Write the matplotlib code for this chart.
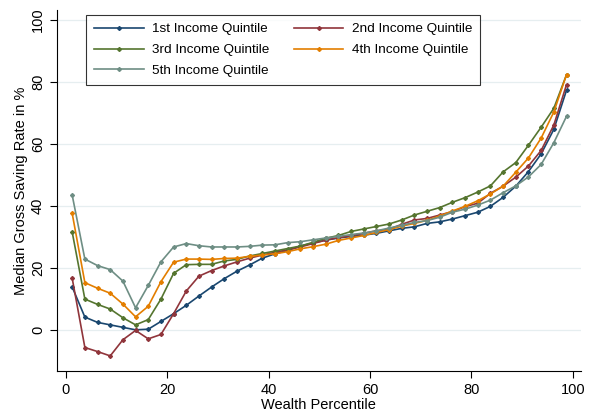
import matplotlib
matplotlib.use("Agg")
import matplotlib.pyplot as plt

plt.rcParams['font.family'] = ['Liberation Sans', 'DejaVu Sans']

# wealth percentile bins (bin centres)
percentile = [1.25, 3.75, 6.25, 8.75, 11.25, 13.75, 16.25, 18.75, 21.25, 23.75,
              26.25, 28.75, 31.25, 33.75, 36.25, 38.75, 41.25, 43.75, 46.25, 48.75,
              51.25, 53.75, 56.25, 58.75, 61.25, 63.75, 66.25, 68.75, 71.25, 73.75,
              76.25, 78.75, 81.25, 83.75, 86.25, 88.75, 91.25, 93.75, 96.25, 98.75]

q1 = [13.9, 4.2, 2.5, 1.7, 0.9, 0.1, 0.3, 2.8, 5.3, 8.0,
      11.0, 13.9, 16.6, 19.0, 21.0, 23.2, 24.6, 25.7, 27.1, 28.1,
      29.0, 29.7, 30.2, 30.6, 31.2, 32.0, 32.8, 33.3, 34.4, 34.9,
      35.8, 36.9, 38.0, 39.9, 42.8, 46.4, 51.1, 56.8, 64.7, 77.3]
q2 = [16.7, -5.6, -6.9, -8.3, -3.1, -0.1, -2.8, -1.4, 5.3, 12.6,
      17.4, 19.2, 20.7, 22.0, 23.2, 24.2, 25.1, 25.9, 26.8, 27.9,
      29.0, 29.8, 30.4, 31.2, 32.0, 32.5, 34.1, 35.5, 36.0, 37.1,
      38.2, 39.8, 40.9, 44.1, 46.4, 49.3, 52.9, 57.9, 66.1, 79.1]
q3 = [31.6, 10.0, 8.3, 6.8, 4.0, 1.7, 3.4, 10.0, 18.3, 21.1,
      21.2, 21.2, 22.3, 22.8, 23.9, 24.7, 25.5, 26.3, 27.1, 28.3,
      29.6, 30.5, 31.8, 32.6, 33.4, 34.2, 35.5, 37.1, 38.3, 39.5,
      41.2, 42.7, 44.5, 46.5, 51.0, 54.0, 59.6, 65.4, 71.5, 82.3]
q4 = [37.6, 15.3, 13.5, 11.9, 8.4, 4.3, 7.7, 15.6, 21.9, 22.9,
      22.9, 22.8, 23.1, 23.2, 23.8, 24.2, 24.6, 25.3, 26.2, 26.9,
      27.7, 28.9, 29.7, 30.5, 31.5, 32.4, 33.5, 34.4, 35.4, 36.8,
      38.4, 39.9, 41.7, 43.9, 46.4, 50.9, 55.5, 61.9, 70.3, 82.3]
q5 = [43.5, 22.9, 20.8, 19.5, 15.8, 7.2, 14.4, 22.0, 26.8, 27.9,
      27.2, 26.8, 26.8, 26.8, 27.0, 27.4, 27.5, 28.2, 28.5, 29.1,
      29.7, 30.2, 30.8, 31.3, 32.0, 32.9, 33.8, 34.7, 35.3, 36.4,
      38.0, 39.0, 40.3, 41.9, 44.3, 46.5, 49.4, 53.4, 60.4, 68.9]

series = [q1, q2, q3, q4, q5]
labels = ['1st Income Quintile', '2nd Income Quintile', '3rd Income Quintile',
          '4th Income Quintile', '5th Income Quintile']
colors = ['#1a476f', '#90353b', '#55752f', '#e37e00', '#6e8e84']

fig = plt.figure(figsize=(5.91, 4.12), dpi=100)
ax = fig.add_axes([0.096, 0.100, 0.887, 0.876])

lines = []
for vals, lab, col in zip(series, labels, colors):
    ln, = ax.plot(percentile, vals, color=col, lw=1.2, marker='D', ms=2.0,
                  label=lab)
    lines.append(ln)

ax.set_xlim(-1.8, 101.6)
ax.set_ylim(-13.1, 103.2)
ax.set_xticks([0, 20, 40, 60, 80, 100])
ax.set_yticks([0, 20, 40, 60, 80, 100])
ax.set_yticklabels(['0', '20', '40', '60', '80', '100'], rotation=90, va='center')
ax.tick_params(labelsize=10.5, length=5, width=0.8, direction='out')
ax.grid(axis='y', color='#e6eef0', lw=0.9)
ax.set_axisbelow(True)
for s in ['top', 'right']:
    ax.spines[s].set_visible(False)

ax.set_xlabel('Wealth Percentile', fontsize=10.5, labelpad=1)
ax.set_ylabel('Median Gross Saving Rate in %', fontsize=10.5, labelpad=2)

# row-wise order like Stata: 1st 2nd / 3rd 4th / 5th
order = [0, 2, 4, 1, 3]
leg = ax.legend([lines[i] for i in order], [labels[i] for i in order],
                loc='upper left', bbox_to_anchor=(0.056, 0.986), ncol=2,
                borderaxespad=0, fontsize=9.7, frameon=True, fancybox=False,
                edgecolor='black', handlelength=3.7, columnspacing=1.8,
                borderpad=0.6, labelspacing=0.62, handletextpad=0.6)
leg.get_frame().set_linewidth(0.8)

fig.savefig('out.png', dpi=100)
